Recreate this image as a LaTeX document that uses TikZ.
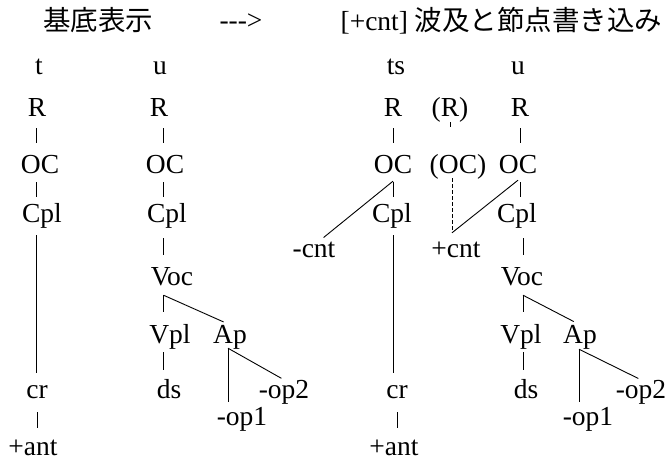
\documentclass[tikz,border=0pt]{standalone}
\usepackage{fontspec}
\setmainfont{Liberation Serif}
\newfontfamily\jp{Noto Sans CJK JP}
\usetikzlibrary{calc}
\begin{document}
\begin{tikzpicture}[x=1pt,y=1pt,
  lab/.style={inner sep=0pt, anchor=base, text height=18pt, text depth=0pt, font=\fontsize{27.5}{30}\selectfont},
  ttl/.style={inner sep=0pt, anchor=base, font=\fontsize{27.5}{30}\selectfont},
  ln/.style={line width=0.9pt, black},
  dsh/.style={line width=0.9pt, dash pattern=on 3.5pt off 2.5pt}]
\useasboundingbox (0,-460) rectangle (667,0);
% titles
\node[ttl] (h1) at (98,-31) {\jp 基底表示};
\node[ttl] (arr) at (241,-30) {-{}-{}->};
\node[ttl] (h2) at (501.5,-31) {[+cnt] {\jp 波及と節点書き込み}};
% column 1
\node[lab] (t1) at (39,-75) {t};
\node[lab] (R1) at (37,-117) {R};
\node[lab] (OC1) at (40,-173) {OC};
\node[lab] (Cpl1) at (42,-222) {Cpl};
\node[lab] (cr1) at (37,-398) {cr};
\node[lab] (ant1) at (33,-455) {+ant};
\coordinate (s1) at (36.5,0);
\draw[ln,shorten <=11pt,shorten >=12pt] (s1 |- R1.south) -- (s1 |- OC1.north);
\draw[ln,shorten <=9pt,shorten >=7pt] (s1 |- OC1.south) -- (s1 |- Cpl1.north);
\draw[ln,shorten <=13pt,shorten >=7pt] (s1 |- Cpl1.south) -- (s1 |- cr1.north);
\draw[ln,shorten <=14pt,shorten >=9pt] (cr1.south) -- (cr1.south |- ant1.north);
% column 2
\node[lab] (u2) at (160,-75) {u};
\node[lab] (R2) at (159,-117) {R};
\node[lab] (OC2) at (165,-173) {OC};
\node[lab] (Cpl2) at (167,-222) {Cpl};
\node[lab] (Voc2) at (172,-285) {Voc};
\node[lab] (Vpl2) at (170,-343) {Vpl};
\node[lab] (Ap2) at (230,-343) {Ap};
\node[lab] (ds2) at (169,-398) {ds};
\node[lab] (opb2) at (284,-398) {-op2};
\node[lab] (opa2) at (242,-425) {-op1};
\coordinate (s2) at (163.5,0);
\draw[ln,shorten <=11pt,shorten >=12pt] (s2 |- R2.south) -- (s2 |- OC2.north);
\draw[ln,shorten <=9pt,shorten >=7pt] (s2 |- OC2.south) -- (s2 |- Cpl2.north);
\draw[ln,shorten <=16pt,shorten >=12pt] (s2 |- Cpl2.south) -- (s2 |- Voc2.north);
\coordinate (v2) at ($(s2 |- Voc2.south)+(0,-10)$);
\draw[ln,shorten >=13pt] (v2) -- (v2 |- Vpl2.north);
\draw[ln,shorten >=7pt] (v2) -- (Ap2.north);
\draw[ln,shorten <=9pt,shorten >=10pt] (s2 |- Vpl2.south) -- (s2 |- ds2.north);
\coordinate (a2) at ($(Ap2.south)+(-2,-5)$);
\draw[ln,shorten >=5pt] (a2) -- (a2 |- opa2.north);
\draw[ln,shorten >=3pt] (a2) -- (opb2.north);
% column 3
\node[lab] (ts3) at (396,-75) {ts};
\node[lab] (R3) at (393,-117) {R};
\node[lab] (OC3) at (393,-173) {OC};
\node[lab] (Cpl3) at (392,-222) {Cpl};
\node[lab] (cnt3) at (314,-257) {-cnt};
\node[lab] (cr3) at (397,-398) {cr};
\node[lab] (ant3) at (394,-455) {+ant};
\coordinate (s3) at (393,0);
\draw[ln,shorten <=11pt,shorten >=12pt] (s3 |- R3.south) -- (s3 |- OC3.north);
\draw[ln,shorten <=9pt,shorten >=7pt] (s3 |- OC3.south) -- (s3 |- Cpl3.north);
\draw[ln,shorten <=13pt,shorten >=7pt] (s3 |- Cpl3.south) -- (s3 |- cr3.north);
\draw[ln,shorten <=14pt,shorten >=9pt] (cr3.south) -- (cr3.south |- ant3.north);
\coordinate (o3) at ($(s3 |- OC3.south)+(0,-8)$);
\draw[ln,shorten >=2pt] (o3) -- ($(cnt3.north)+(8,0)$);
% spread nodes
\node[lab] (Rp) at (450,-117) {(R)};
\node[lab] (OCp) at (458,-173) {(OC)};
\node[lab] (pcnt) at (456,-257) {+cnt};
\draw[line width=0.9pt, dash pattern=on 5pt off 60pt, shorten <=5pt] (Rp.south) -- (Rp.south |- OCp.north);
\coordinate (pc) at ($(pcnt.north)+(-4,6)$);
\draw[dsh,shorten <=5pt] (pc |- OCp.south) -- (pc);
% column 4
\node[lab] (u4) at (518,-75) {u};
\node[lab] (R4) at (520,-117) {R};
\node[lab] (OC4) at (518,-173) {OC};
\node[lab] (Cpl4) at (517,-222) {Cpl};
\node[lab] (Voc4) at (522,-285) {Voc};
\node[lab] (Vpl4) at (521,-343) {Vpl};
\node[lab] (Ap4) at (580,-343) {Ap};
\node[lab] (ds4) at (526,-398) {ds};
\node[lab] (opb4) at (641,-398) {-op2};
\node[lab] (opa4) at (588,-425) {-op1};
\coordinate (s4) at (520,0);
\coordinate (t4) at (523,0);
\draw[ln,shorten <=11pt,shorten >=12pt] (s4 |- R4.south) -- (s4 |- OC4.north);
\draw[ln,shorten <=9pt,shorten >=7pt] (s4 |- OC4.south) -- (s4 |- Cpl4.north);
\coordinate (o4) at ($(s4 |- OC4.south)+(-2,-7)$);
\draw[ln] (o4) -- (pc);
\draw[ln,shorten <=16pt,shorten >=12pt] (t4 |- Cpl4.south) -- (t4 |- Voc4.north);
\coordinate (v4) at ($(t4 |- Voc4.south)+(0,-10)$);
\draw[ln,shorten >=13pt] (v4) -- (v4 |- Vpl4.north);
\draw[ln,shorten >=7pt] (v4) -- (Ap4.north);
\draw[ln,shorten <=9pt,shorten >=10pt] (t4 |- Vpl4.south) -- (t4 |- ds4.north);
\coordinate (a4) at ($(Ap4.south)+(-1,-6)$);
\draw[ln,shorten >=5pt] (a4) -- (a4 |- opa4.north);
\draw[ln,shorten >=3pt] (a4) -- (opb4.north);
\end{tikzpicture}
\end{document}
